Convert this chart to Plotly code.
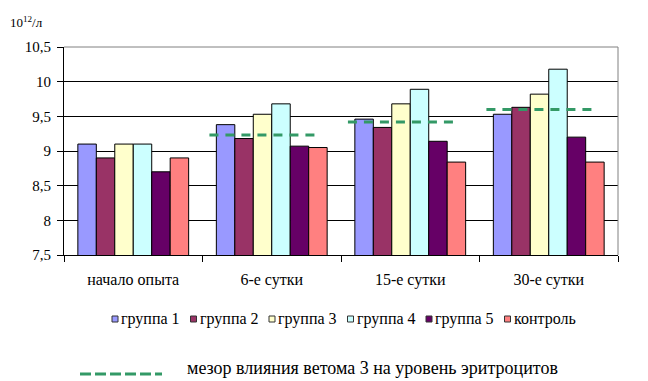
import plotly.graph_objects as go

categories = ["начало опыта", "6-е сутки", "15-е сутки", "30-е сутки"]
series_names = ["группа 1", "группа 2", "группа 3", "группа 4", "группа 5", "контроль"]
group1 = [9.10, 9.38, 9.46, 9.53]
group2 = [8.90, 9.18, 9.34, 9.63]
group3 = [9.10, 9.53, 9.68, 9.82]
group4 = [9.10, 9.68, 9.89, 10.18]
group5 = [8.70, 9.07, 9.14, 9.20]
control = [8.90, 9.05, 8.84, 8.84]
mesor = [None, 9.23, 9.42, 9.60]
mesor_label = "мезор влияния ветома 3 на уровень эритроцитов"
y_unit = "10<sup>12</sup>/л"

colors = ["#9999FF", "#993366", "#FFFFCC", "#CCFFFF", "#660066", "#FF8080"]
all_series = [group1, group2, group3, group4, group5, control]
FONT = "Liberation Serif, Times New Roman, serif"
DASH_COLOR = "#339966"

# plot-area geometry (pixels) used to place the hand-built legend
W, H = 648, 381
ML, MR, MT, MB = 64, 30, 47, 126
PW, PH = W - ML - MR, H - MT - MB


def px_x(px):
    return (px - ML) / PW


def px_y(py):
    return (H - MB - py) / PH


fig = go.Figure()
for name, vals, col in zip(series_names, all_series, colors):
    fig.add_trace(go.Bar(
        x=categories, y=vals, name=name, showlegend=False,
        marker=dict(color=col, line=dict(color="black", width=1)),
    ))

# mesor dashed segments on an overlay numeric axis aligned with category slots
mx, my = [], []
for i, v in enumerate(mesor):
    if v is None:
        continue
    mx += [i - 0.45, i + 0.32, None]
    my += [v, v, None]
fig.add_trace(go.Scatter(
    x=mx, y=my, xaxis="x2", mode="lines", showlegend=False, name=mesor_label,
    line=dict(color=DASH_COLOR, width=3, dash="9px,7px"),
))

shapes = [
    dict(type="line", xref="paper", yref="paper", x0=0, x1=1, y0=1, y1=1,
         line=dict(color="#808080", width=1), layer="above"),
    dict(type="line", xref="paper", yref="paper", x0=1, x1=1, y0=0, y1=1,
         line=dict(color="#808080", width=1), layer="above"),
    dict(type="line", xref="paper", yref="paper", x0=px_x(80), x1=px_x(162),
         y0=px_y(374), y1=px_y(374),
         line=dict(color=DASH_COLOR, width=3, dash="11px,4px")),
]
annotations = [
    dict(text=y_unit, xref="paper", yref="paper", x=px_x(8), y=px_y(22),
         xanchor="left", yanchor="middle", showarrow=False,
         font=dict(family=FONT, size=13)),
    dict(text=mesor_label, xref="paper", yref="paper", x=px_x(185), y=px_y(368),
         xanchor="left", yanchor="middle", showarrow=False,
         font=dict(family=FONT, size=18)),
]

# legend row: small outlined squares followed by the series names
LEG_X0, LEG_STEP, LEG_Y = 119, 78.5, 319
for k, (name, col) in enumerate(zip(series_names, colors)):
    tx = LEG_X0 + k * LEG_STEP
    shapes.append(dict(
        type="rect", xref="paper", yref="paper",
        x0=px_x(tx - 7), x1=px_x(tx - 1), y0=px_y(LEG_Y + 3), y1=px_y(LEG_Y - 3),
        fillcolor=col, line=dict(color="#333333", width=1),
    ))
    annotations.append(dict(
        text=name, xref="paper", yref="paper", x=px_x(tx), y=px_y(LEG_Y),
        xanchor="left", yanchor="middle", showarrow=False,
        font=dict(family=FONT, size=16),
    ))

fig.update_layout(
    width=W, height=H,
    margin=dict(l=ML, r=MR, t=MT, b=MB),
    paper_bgcolor="white", plot_bgcolor="white",
    barmode="group", bargap=0.2, bargroupgap=0,
    separators=", ",
    showlegend=False,
    font=dict(family=FONT, size=13, color="black"),
    xaxis=dict(
        type="category", showgrid=False, showline=True, linecolor="black", linewidth=1,
        ticks="outside", tickson="boundaries", ticklen=6, tickcolor="black",
        tickfont=dict(family=FONT, size=16), ticklabelstandoff=10,
    ),
    xaxis2=dict(overlaying="x", range=[-0.5, 3.5], visible=False),
    yaxis=dict(
        range=[7.5, 10.5], dtick=0.5, tick0=7.5, showgrid=True, gridcolor="black",
        gridwidth=1, showline=True, linecolor="black", linewidth=1,
        ticks="outside", ticklen=6, tickcolor="black", zeroline=False,
        tickfont=dict(family=FONT, size=15), ticklabelstandoff=3,
    ),
    shapes=shapes,
    annotations=annotations,
)

fig.write_html("out.html", config={"displayModeBar": False},
               post_script="document.body.style.margin='0';")
